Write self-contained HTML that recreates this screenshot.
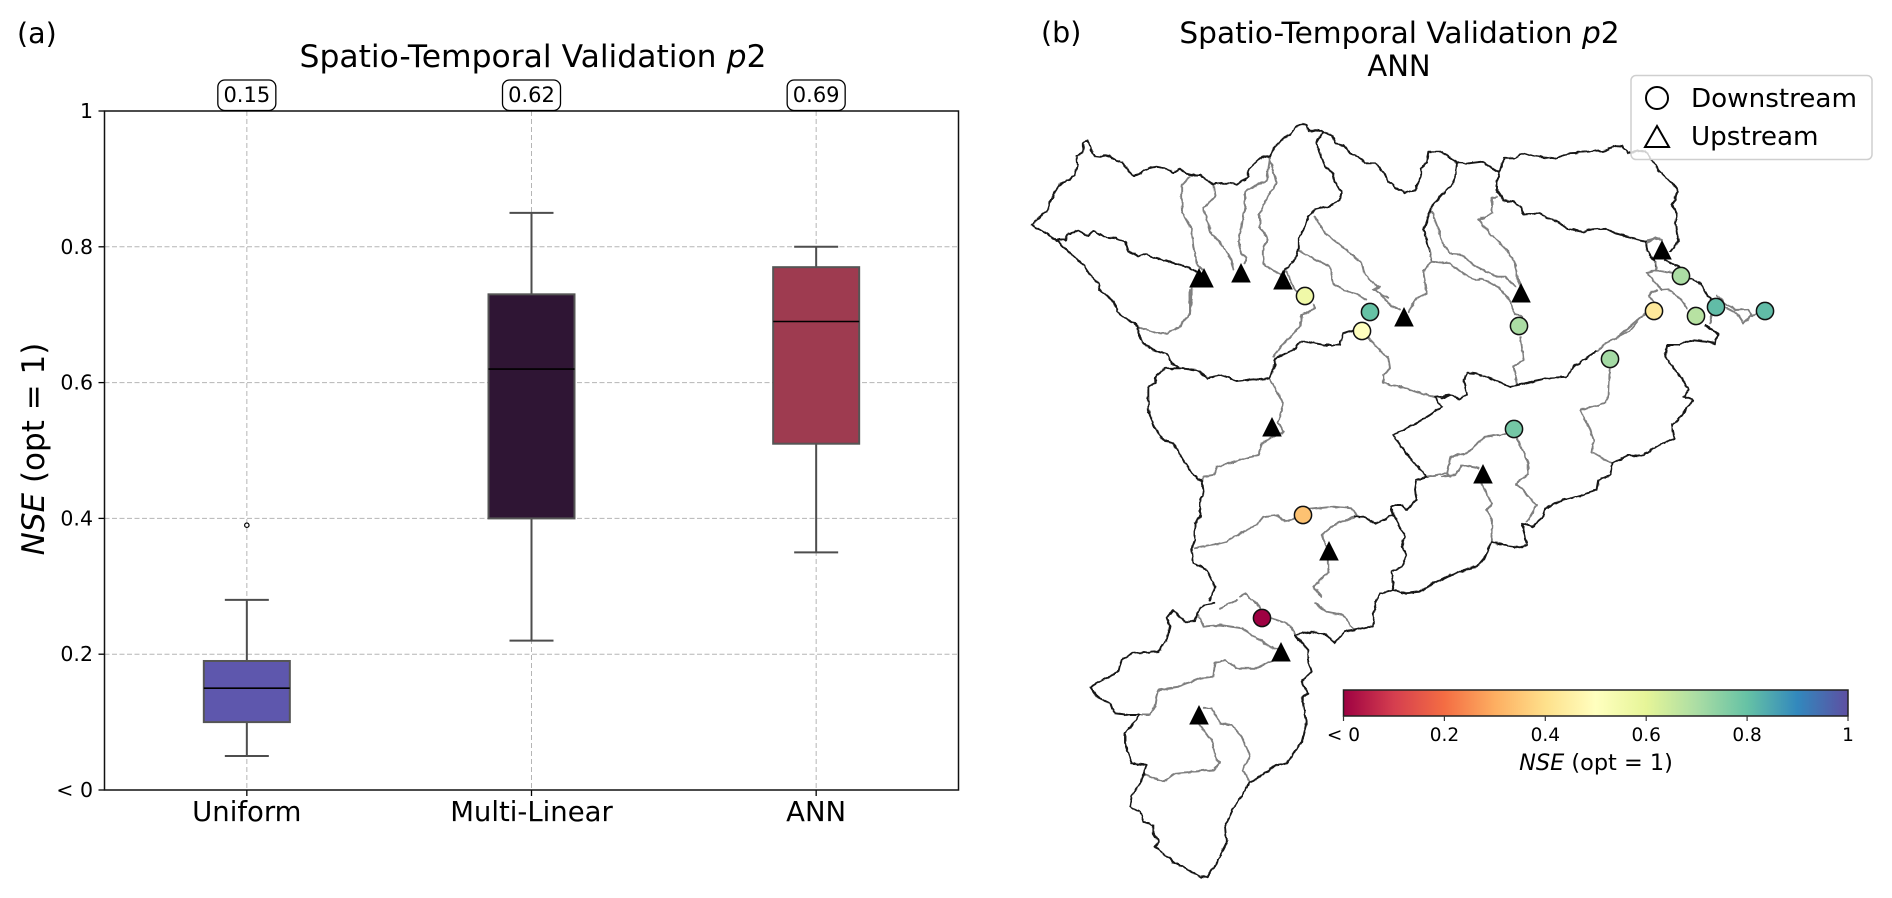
<!DOCTYPE html>
<html lang="en">
<head>
<meta charset="utf-8">
<title>Spatio-Temporal Validation p2</title>
<style>
html,body{margin:0;padding:0;background:#fff}
svg{display:block;filter:blur(.35px)}
text{font-family:"DejaVu Sans",sans-serif;fill:#000}
.riv{fill:none;stroke:#7f7f7f;stroke-width:1.9;stroke-linejoin:round;stroke-linecap:round;vector-effect:non-scaling-stroke}
.bas{fill:none;stroke:#161616;stroke-width:1.9;stroke-linejoin:round;stroke-linecap:round;vector-effect:non-scaling-stroke}
</style>
</head>
<body>
<svg id="fig" xmlns="http://www.w3.org/2000/svg" width="1892" height="898" viewBox="0 0 1892 898">
<defs>
<filter id="rough" x="-2%" y="-2%" width="104%" height="104%" filterUnits="objectBoundingBox">
<feTurbulence type="fractalNoise" baseFrequency="0.16" numOctaves="2" seed="4" result="n"/>
<feDisplacementMap in="SourceGraphic" in2="n" scale="3.2" xChannelSelector="R" yChannelSelector="G"/>
</filter>
<linearGradient id="spectral" x1="0" x2="1" y1="0" y2="0"></linearGradient>
</defs>

<!-- Panel a static text -->
<text x="17" y="43" font-size="28.5">(a)</text>
<text x="533" y="67" font-size="31.4" text-anchor="middle">Spatio-Temporal Validation <tspan font-style="italic">p</tspan>2</text>
<text transform="translate(44,449) rotate(-90)" font-size="31" text-anchor="middle"><tspan font-style="italic">NSE</tspan> (opt = 1)</text>
<g id="boxplot"></g>

<!-- Panel b static text -->
<text x="1041" y="42" font-size="28.5">(b)</text>
<text x="1399.5" y="43" font-size="29.6" text-anchor="middle">Spatio-Temporal Validation <tspan font-style="italic">p</tspan>2</text>
<text x="1399" y="76" font-size="29" text-anchor="middle">ANN</text>

<g filter="url(#rough)">
<g transform="translate(1000,0) scale(.33333)">
<path class="riv" d="M570 530L545 555 545 590 548 640 575 690 580 740 590 790 605 810M575 865L575 900M640 555L645 590 610 625 625 670 630 695 670 740 695 780 700 810M810 475L800 540 735 575 735 620 725 680 715 725 725 760 740 775 735 790M808 475L830 550 808 580 780 640 780 680 805 720 790 740 790 790 815 810 845 825M860 815L880 860 895 880M895 750L950 780 990 800 1000 850 1030 870 1065 880 1100 900M945 650L975 700 1040 750 1085 790 1095 825 1130 860 1140 860 1120 868 1165 895M1295 635L1320 700"/>
<path class="bas" d="M95 675L125 645 142 632 150 605 165 575 182 550 205 540 225 525 232 495 228 468 250 455 250 430 262 420 272 445 285 470 300 472 310 465 330 470 350 482 370 490 385 515 402 528 420 520 445 505 470 500 495 505 520 518 540 506 555 520 575 525 600 525 620 540 640 553 665 550 690 550 710 553 730 540 745 530 745 510 765 490 790 467 810 470 825 440 850 415 870 405 885 385 905 370 920 375 925 395 950 390 975 398 995 405 1005 430 1030 435 1050 460 1075 470 1095 490 1125 490 1150 515 1165 545 1190 565 1215 578 1245 570 1265 530 1265 505 1280 485 1285 455 1326 455M95 675L170 720 205 755 250 795 270 825 295 850 300 870 335 900M170 720L195 720 205 700 235 692 265 708 280 693 310 710 345 715 375 725 385 755 415 768 430 762 490 780 560 800 600 820M965 400L948 430 965 470 975 500 1000 520 1005 545 1025 580 1015 605 985 620 945 628 925 650 910 690 895 715 895 750 885 780 860 805 850 820M1326 585L1295 620 1272 690 1285 740 1295 780"/>
</g>
<g transform="translate(1442,0) scale(.33333)">
<path class="riv" d="M165 590L150 595 150 640 110 660 150 705 190 745 220 790 225 830 235 855M610 725L640 712 660 720"/>
<path class="bas" d="M0 455L20 470 45 488 80 490 120 485 150 505 172 518M172 518L185 475 215 475 245 460 280 468 340 475 385 458 440 455 490 452 520 437 540 438 560 460 590 450 610 455 630 480 650 510 680 540 705 565 700 600 690 615 705 640 700 670 705 700 712 720 700 735 685 755M172 518L165 545 165 570 185 600 215 605 240 625 245 645 290 640 320 655 345 665 375 685 420 695 450 688 490 685 520 700 570 715 610 725 615 755 640 785 640 800M45 488L40 530 30 555 0 585"/>
</g>
<g transform="translate(1380,230) scale(.33333)">
<path class="riv" d="M150 60L155 95 130 125 140 190 110 205 85 245M155 95L210 100 240 125 280 148 310 148 355 170 390 215 405 250 425 260M175 0L190 45 210 70 240 72 290 110 350 140 375 140 405 170M0 190L30 225 60 240"/>
</g>
<g transform="translate(1620,230) scale(.33333)">
<path class="riv" d="M80 40L100 25 125 30M105 95L110 120 80 128 105 160 125 180 145 178 180 205 200 235M110 120L140 125 165 130M110 180L85 195 100 215M75 250L40 280 0 315M270 280L275 255M290 195L310 215 345 240 385 238 395 255 370 280 350 250 320 235M395 260L410 250"/>
<path class="bas" d="M135 90L175 110 210 145 235 155 265 200 290 225M255 285L280 300 295 315 285 330"/>
</g>
<g transform="translate(1180,250) scale(.33333)">
<path class="riv" d="M400 165L405 175 365 195 360 230 320 270 280 320M30 120L30 190 0 230"/>
</g>
<g transform="translate(1000,300) scale(.33333)">
<path class="riv" d="M575 0L570 40 545 75 500 100 470 100 415 80M1105 115L1165 175 1170 205 1150 225 1150 250 1200 260 1280 285 1305 292M1280 530L1340 520 1350 530M1065 650L1000 675 965 705 985 750M925 628L1000 620 1055 625 1075 650M885 655L855 665 830 645 790 650 770 675 720 700 680 725 640 735 585 745M810 235L850 310 835 365 850 395 785 430 775 465 720 480 650 500 640 525 610 530 605 545M985 780L985 815 940 860 965 890M720 890L735 880 755 900"/>
<path class="bas" d="M335 0L350 25 350 35 385 60 415 78 415 100 430 130 460 150 505 165 515 190 540 205M825 175L822 205 810 235 780 240 760 238 710 243 660 225 625 235 590 210 540 205 495 205 470 225 465 250 445 260 445 330 460 375 490 420 520 430 550 480 580 525 605 545 610 585 600 600 600 650 585 670 585 720 575 745 580 790 620 810 645 860 630 900M825 175L880 150 900 125 925 125 970 135 1020 135 1030 100 1060 90M1305 292L1350 285M1305 292L1325 320 1290 345 1240 375 1180 405 1225 470 1280 530 1250 540 1245 570 1250 600 1220 630 1205 615 1185 615 1172 620 1180 645 1125 670 1090 650 1065 650M1180 645L1215 710 1205 740 1220 765 1205 800 1175 815 1180 870 1215 880 1260 875 1300 850 1350 825M1180 870L1140 880 1130 900"/>
</g>
<g transform="translate(1442,300) scale(.33333)">
<path class="riv" d="M465 155L490 130 560 95 600 50M225 255L215 200 245 180 235 110M503 205L500 285 490 310 415 330 440 380 455 420 450 455 510 490M148 725L150 660 135 630 150 610 130 575 120 550M110 505L60 495 40 525 15 528 0 530M190 402L130 410 75 460 25 470 15 525M225 415L260 490 260 520 222 550 285 615 255 665"/>
<path class="bas" d="M0 295L30 285 50 298 75 285 65 240 75 218 95 220 125 228 170 245 205 260 250 250 310 235 375 230 395 200 460 155M670 170L675 135 710 135 745 120 790 125 820 130 828 100 790 75M670 170L695 205 720 235 740 270 725 290 752 300 720 345 690 375 697 415 640 440 600 468 560 465 510 490 505 525 470 540 465 570 420 585 360 600 310 625 300 655 270 680 240 670 255 735 235 742 200 738 148 725 130 770 105 800 50 815 0 840"/>
</g>
<g transform="translate(1060,600) scale(.33333)">
<path class="riv" d="M415 45L430 80 480 75 545 85 600 120 620 135 655 150M640 180L590 205 565 205 530 205 495 180 465 190 460 230 420 235 355 260 295 270 285 320 270 345 240 345M570 548L548 510 570 470 545 410 515 375 480 370 455 325 430 325M415 370L460 430 465 465 478 490 460 510 400 515 345 520 310 545 255 525M635 55L690 75 705 100M765 10L800 35 850 45 880 90M480 25L530 0M580 0L605 30"/>
<path class="bas" d="M240 345L205 345 165 340 150 310 110 290 90 262 130 240 175 215 185 180 215 160 295 155 320 120 330 80 320 55 340 30 375 65 405 65 410 40 430 15 460 10M240 345L195 400 195 430 215 490 260 495 245 540 215 590 210 620 240 635 250 665 280 675 280 700 295 725 285 740 320 770 345 790 385 810 420 830 440 830 470 790 500 730 495 680 520 625 570 548 600 530 640 500 680 490 725 425 740 365 725 290 745 280 725 245 755 215 745 180 745 150 705 105 755 95 800 105 825 128 855 95 940 78 940 40 950 0"/>
</g>
</g>

<g id="stations"></g>

<g>
<rect x="1631" y="75.5" width="241" height="84" rx="5" fill="#fff" fill-opacity=".8" stroke="#cfcfcf" stroke-width="1.5"/>
<circle cx="1657" cy="98" r="11" fill="#fff" stroke="#000" stroke-width="2"/>
<path d="M1657 126L1669 147 1645 147Z" fill="#fff" stroke="#000" stroke-width="2" stroke-linejoin="miter"/>
<text x="1691" y="107" font-size="26.2">Downstream</text>
<text x="1691" y="145" font-size="26.2">Upstream</text>
</g>

<g id="colorbar"></g>
<text x="1596" y="770" font-size="22.4" text-anchor="middle"><tspan font-style="italic">NSE</tspan> (opt = 1)</text>

<script>
// ---------- Boxplot data ----------
const categories = ['Uniform', 'Multi-Linear', 'ANN'];
const whiskerLow = [0.05, 0.22, 0.35];
const quartile1 = [0.10, 0.40, 0.51];
const medians = [0.15, 0.62, 0.69];
const quartile3 = [0.19, 0.73, 0.77];
const whiskerHigh = [0.28, 0.85, 0.80];
const outlierCategory = [0];
const outlierValue = [0.39];
const boxColors = ['#5e57ad', '#2f1534', '#9e3b50'];
const yTicks = [0, 0.2, 0.4, 0.6, 0.8, 1];
const yTickLabels = ['< 0', '0.2', '0.4', '0.6', '0.8', '1'];

// ---------- Map data (map units east / south of the map origin) ----------
const upstreamEast = [199, 204, 241, 283, 272, 404, 329, 662, 521, 483, 281, 199];
const upstreamSouth = [278, 278, 273, 280, 427, 317, 551, 250, 293, 474, 652, 715];
const downstreamEast = [305, 370, 362, 303, 519, 610, 654, 696, 716, 765, 514, 681, 262];
const downstreamSouth = [296, 312, 331, 515, 326, 359, 311, 316, 307, 311, 429, 276, 618];
const downstreamNse = [0.56, 0.80, 0.50, 0.34, 0.70, 0.71, 0.43, 0.68, 0.81, 0.81, 0.78, 0.70, 0.0];

// ---------- Colorbar data ----------
const colormapColors = ['#9e0142', '#d53e4f', '#f46d43', '#fdae61', '#fee08b', '#ffffbf', '#e6f598', '#abdda4', '#66c2a5', '#3288bd', '#5e4fa2'];
const colorbarTicks = [0, 0.2, 0.4, 0.6, 0.8, 1];
const colorbarTickLabels = ['< 0', '0.2', '0.4', '0.6', '0.8', '1'];

// ---------- Scales ----------
const plot = {left: 104.5, right: 958.5, top: 111, bottom: 790};
const xCat = i => plot.left + (i + 0.5) * (plot.right - plot.left) / categories.length;
const yVal = v => plot.bottom - v * (plot.bottom - plot.top);
const mapX = e => 1000 + e;
const mapY = s => s;
const cbX = v => 1343.5 + v * (1848 - 1343.5);

function hexToRgb(h) {
  return [1, 3, 5].map(k => parseInt(h.slice(k, k + 2), 16));
}
function colorFor(v) {
  const t = Math.max(0, Math.min(1, v)) * (colormapColors.length - 1);
  const i = Math.min(Math.floor(t), colormapColors.length - 2);
  const a = hexToRgb(colormapColors[i]), b = hexToRgb(colormapColors[i + 1]);
  const c = a.map((x, k) => Math.round(x + (b[k] - x) * (t - i)));
  return 'rgb(' + c.join(',') + ')';
}
const NS = 'http://www.w3.org/2000/svg';
function make(parent, tag, attrs, txt) {
  const e = document.createElementNS(NS, tag);
  for (const k in attrs) e.setAttribute(k, attrs[k]);
  if (txt !== undefined) e.textContent = txt;
  parent.appendChild(e);
  return e;
}

// ---------- Boxplot ----------
const bp = document.getElementById('boxplot');
yTicks.forEach((v, i) => {
  if (v > 0 && v < 1) {
    const g = make(bp, 'line', {x1: plot.left, x2: plot.right, y1: yVal(v), y2: yVal(v), stroke: '#b5b5b5', 'stroke-width': 1, 'stroke-dasharray': '5 2.5'});
    
    
  }
  const t = make(bp, 'line', {x1: plot.left - 6, x2: plot.left, y1: yVal(v), y2: yVal(v), stroke: '#000', 'stroke-width': 1.3});
  
  
  const l = make(bp, 'text', {x: 93, y: yVal(v) + 7, 'font-size': 20.5, 'text-anchor': 'end'}, yTickLabels[i]);
  
  
});
categories.forEach((c, i) => {
  const x = xCat(i);
  const g = make(bp, 'line', {x1: x, x2: x, y1: plot.top, y2: plot.bottom, stroke: '#b5b5b5', 'stroke-width': 1, 'stroke-dasharray': '5 3'});
  
  
  const t = make(bp, 'line', {x1: x, x2: x, y1: plot.bottom, y2: plot.bottom + 6, stroke: '#000', 'stroke-width': 1.3});
  
  
  const l = make(bp, 'text', {x: x, y: 821, 'font-size': 27.5, 'text-anchor': 'middle'}, c);
  
  
});
categories.forEach((c, i) => {
  const x = xCat(i), capW = 22, boxW = 43;
  const wl = make(bp, 'line', {x1: x, x2: x, y1: yVal(whiskerHigh[i]), y2: yVal(whiskerLow[i]), stroke: '#4d4d4d', 'stroke-width': 2});
  
  
  [whiskerLow[i], whiskerHigh[i]].forEach(v => {
    const cap = make(bp, 'line', {x1: x - capW, x2: x + capW, y1: yVal(v), y2: yVal(v), stroke: '#4d4d4d', 'stroke-width': 2});
    
    
  });
  const b = make(bp, 'rect', {x: x - boxW, width: 2 * boxW, y: yVal(quartile3[i]), height: yVal(quartile1[i]) - yVal(quartile3[i]), fill: boxColors[i], stroke: '#555', 'stroke-width': 2});
  
  
  const m = make(bp, 'line', {x1: x - boxW, x2: x + boxW, y1: yVal(medians[i]), y2: yVal(medians[i]), stroke: '#000', 'stroke-width': 1.6});
  
  
});
outlierValue.forEach((v, i) => {
  const o = make(bp, 'circle', {cx: xCat(outlierCategory[i]), cy: yVal(v), r: 2.2, fill: '#fff', stroke: '#000', 'stroke-width': 1.2});
  
  
});
const frame = make(bp, 'rect', {x: plot.left, y: plot.top, width: plot.right - plot.left, height: plot.bottom - plot.top, fill: 'none', stroke: '#111', 'stroke-width': 1.5});


categories.forEach((c, i) => {
  const x = xCat(i);
  const r = make(bp, 'rect', {x: x - 29, y: 80, width: 58, height: 30.5, rx: 7, fill: '#fff', stroke: '#000', 'stroke-width': 1.3});
  
  
  const t = make(bp, 'text', {x: x, y: 102, 'font-size': 21, 'text-anchor': 'middle'}, medians[i].toFixed(2));
  
  
});

// ---------- Stations ----------
const st = document.getElementById('stations');
upstreamEast.forEach((e, i) => {
  const x = mapX(e), y = mapY(upstreamSouth[i]);
  const p = make(st, 'path', {d: 'M' + x + ' ' + (y - 10) + 'L' + (x + 9.8) + ' ' + (y + 9.5) + 'L' + (x - 9.8) + ' ' + (y + 9.5) + 'Z', fill: '#000'});
  
  
});
downstreamEast.forEach((e, i) => {
  const c = make(st, 'circle', {cx: mapX(e), cy: mapY(downstreamSouth[i]), r: 8.6, fill: colorFor(downstreamNse[i]), stroke: '#111', 'stroke-width': 1.5});
  
  
});

// ---------- Colorbar ----------
const grad = document.getElementById('spectral');
colormapColors.forEach((col, i) => {
  make(grad, 'stop', {offset: i / (colormapColors.length - 1), 'stop-color': col});
});
const cb = document.getElementById('colorbar');
const bar = make(cb, 'rect', {x: cbX(0), y: 690, width: cbX(1) - cbX(0), height: 26, fill: 'url(#spectral)', stroke: '#222', 'stroke-width': 1.5});


colorbarTicks.forEach((v, i) => {
  const t = make(cb, 'line', {x1: cbX(v), x2: cbX(v), y1: 716, y2: 721, stroke: '#333', 'stroke-width': 1.2});
  
  
  const l = make(cb, 'text', {x: cbX(v), y: 741, 'font-size': 18.5, 'text-anchor': 'middle'}, colorbarTickLabels[i]);
  
  
});
</script>
</svg>
</body>
</html>
